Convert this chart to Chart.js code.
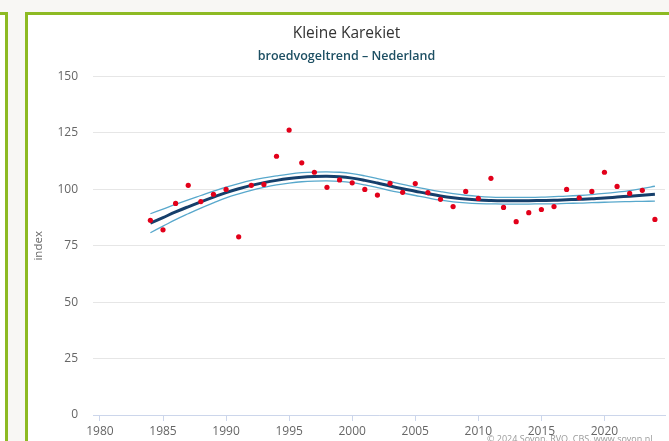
<!DOCTYPE html>
<html lang="nl">
<head>
<meta charset="UTF-8">
<title>Kleine Karekiet - broedvogeltrend</title>
<script src="https://cdn.jsdelivr.net/npm/chart.js@4.4.1/dist/chart.umd.min.js"></script>
<style>
  html, body { margin: 0; padding: 0; }
  body { width: 669px; height: 441px; overflow: hidden; background: #f8f7f4; position: relative; font-family: "Open Sans", sans-serif; }
  .side { position: absolute; left: -20px; top: 12px; width: 22px; height: 460px; border: 3px solid #8dba23; background: #fff; }
  .panel { position: absolute; left: 25px; top: 12px; width: 700px; height: 460px; border: 3px solid #8dba23; background: #fff; }
  #chartBox { position: absolute; left: 28px; top: 15px; width: 641px; height: 426px; }
  .credit { position: absolute; left: 487px; top: 432px; font-size: 9px; color: #9a9a9a; white-space: nowrap; }
</style>
</head>
<body>
<div class="side"></div>
<div class="panel"></div>
<div id="chartBox"><canvas id="myChart" width="641" height="426"></canvas></div>
<div class="credit">© 2024 Sovon, RVO, CBS, www.sovon.nl</div>

<script>
// jaren en indexwaarden
var years = [1984, 1985, 1986, 1987, 1988, 1989, 1990, 1991, 1992, 1993,
             1994, 1995, 1996, 1997, 1998, 1999, 2000, 2001, 2002, 2003,
             2004, 2005, 2006, 2007, 2008, 2009, 2010, 2011, 2012, 2013,
             2014, 2015, 2016, 2017, 2018, 2019, 2020, 2021, 2022, 2023, 2024];

var indexValues = [86.3, 82.1, 93.8, 101.8, 94.6, 97.8, 100, 79, 101.8, 102.2,
                   114.7, 126.3, 111.8, 107.6, 100.9, 104.2, 102.9, 100, 97.5, 102.7,
                   98.7, 102.6, 98.6, 95.6, 92.4, 99.1, 96, 104.9, 92, 85.7,
                   89.7, 91.1, 92.4, 100, 96.3, 99.1, 107.6, 101.3, 98.2, 99.6, 86.7];

var trend = [85, 87.5, 90, 92.3, 94.5, 96.6, 98.6, 100.3, 101.8, 103,
             104, 104.8, 105.4, 105.7, 105.8, 105.6, 105, 104, 102.8, 101.5,
             100.3, 99.2, 98.1, 97.1, 96.3, 95.7, 95.3, 95.1, 95, 95,
             95, 95.1, 95.2, 95.4, 95.6, 95.9, 96.2, 96.6, 97, 97.4, 97.8];

var upper = [89.2, 91.3, 93.4, 95.4, 97.3, 99.2, 101, 102.6, 104, 105.1,
             106, 106.8, 107.4, 107.7, 107.8, 107.6, 107, 106, 104.8, 103.5,
             102.2, 101.1, 100, 99, 98.1, 97.4, 96.9, 96.6, 96.5, 96.5,
             96.5, 96.6, 96.8, 97, 97.3, 97.7, 98.2, 98.8, 99.5, 100.4, 101.4];

var lower = [80.8, 83.7, 86.6, 89.2, 91.7, 94, 96.2, 98, 99.6, 100.9,
             102, 102.8, 103.4, 103.7, 103.8, 103.6, 103, 102, 100.8, 99.5,
             98.4, 97.3, 96.2, 95.2, 94.5, 94, 93.7, 93.6, 93.5, 93.5,
             93.5, 93.6, 93.6, 93.8, 93.9, 94.1, 94.3, 94.5, 94.6, 94.7, 94.8];

var xTicks = [1980, 1985, 1990, 1995, 2000, 2005, 2010, 2015, 2020];
var yTicks = [0, 25, 50, 75, 100, 125, 150];

function pairs(vals) {
  return years.map(function(y, i) { return { x: y, y: vals[i] }; });
}

var ctx = document.getElementById('myChart').getContext('2d');

var myChart = new Chart(ctx, {
  type: 'scatter',
  data: {
    datasets: [
      {
        label: 'index',
        data: pairs(indexValues),
        backgroundColor: '#e2001a',
        borderColor: '#e2001a',
        pointRadius: 2.6,
        pointBorderWidth: 0,
        order: 0
      },
      {
        label: 'trend',
        type: 'line',
        data: pairs(trend),
        borderColor: '#163f6b',
        borderWidth: 3,
        pointRadius: 0,
        tension: 0.4,
        fill: false,
        order: 1
      },
      {
        label: 'boven',
        type: 'line',
        data: pairs(upper),
        borderColor: '#58a8cc',
        borderWidth: 1.3,
        pointRadius: 0,
        tension: 0.4,
        fill: false,
        order: 2
      },
      {
        label: 'onder',
        type: 'line',
        data: pairs(lower),
        borderColor: '#58a8cc',
        borderWidth: 1.3,
        pointRadius: 0,
        tension: 0.4,
        fill: false,
        order: 2
      }
    ]
  },
  options: {
    responsive: false,
    animation: false,
    layout: { padding: { left: 0, right: 4, top: 0, bottom: 0 } },
    plugins: {
      legend: { display: false },
      tooltip: { enabled: false },
      title: {
        display: true,
        text: 'Kleine Karekiet',
        color: '#333333',
        font: { family: 'Open Sans', size: 15.5, weight: 'normal' },
        padding: { top: 9, bottom: 4 }
      },
      subtitle: {
        display: true,
        text: 'broedvogeltrend \u2013 Nederland',
        color: '#1d4f63',
        font: { family: 'Open Sans', size: 12.5, weight: '600' },
        padding: { top: 2, bottom: 13 }
      }
    },
    scales: {
      x: {
        type: 'linear',
        min: 1979.45,
        max: 2024.8,
        afterBuildTicks: function(scale) {
          scale.ticks = xTicks.map(function(v) { return { value: v }; });
        },
        afterFit: function(scale) { scale.height = 26; },
        grid: { drawOnChartArea: false, drawTicks: true, tickLength: 6, color: '#ccd6eb' },
        border: { display: true, color: '#ccd6eb', width: 1 },
        ticks: {
          color: '#666666',
          padding: 3,
          maxRotation: 0,
          font: { family: 'Open Sans', size: 12 },
          callback: function(v) { return String(v); }
        }
      },
      y: {
        min: 0,
        max: 150,
        afterBuildTicks: function(scale) {
          scale.ticks = yTicks.map(function(v) { return { value: v }; });
        },
        afterFit: function(scale) { scale.width = 65; },
        grid: { color: '#e6e6e6', drawTicks: false },
        border: { display: false },
        title: {
          display: true,
          text: 'index',
          color: '#666666',
          font: { family: 'Open Sans', size: 11.5 },
          padding: { top: 4, bottom: 0 }
        },
        ticks: {
          color: '#666666',
          padding: 15,
          font: { family: 'Open Sans', size: 12 }
        }
      }
    }
  }
});
</script>
</body>
</html>
